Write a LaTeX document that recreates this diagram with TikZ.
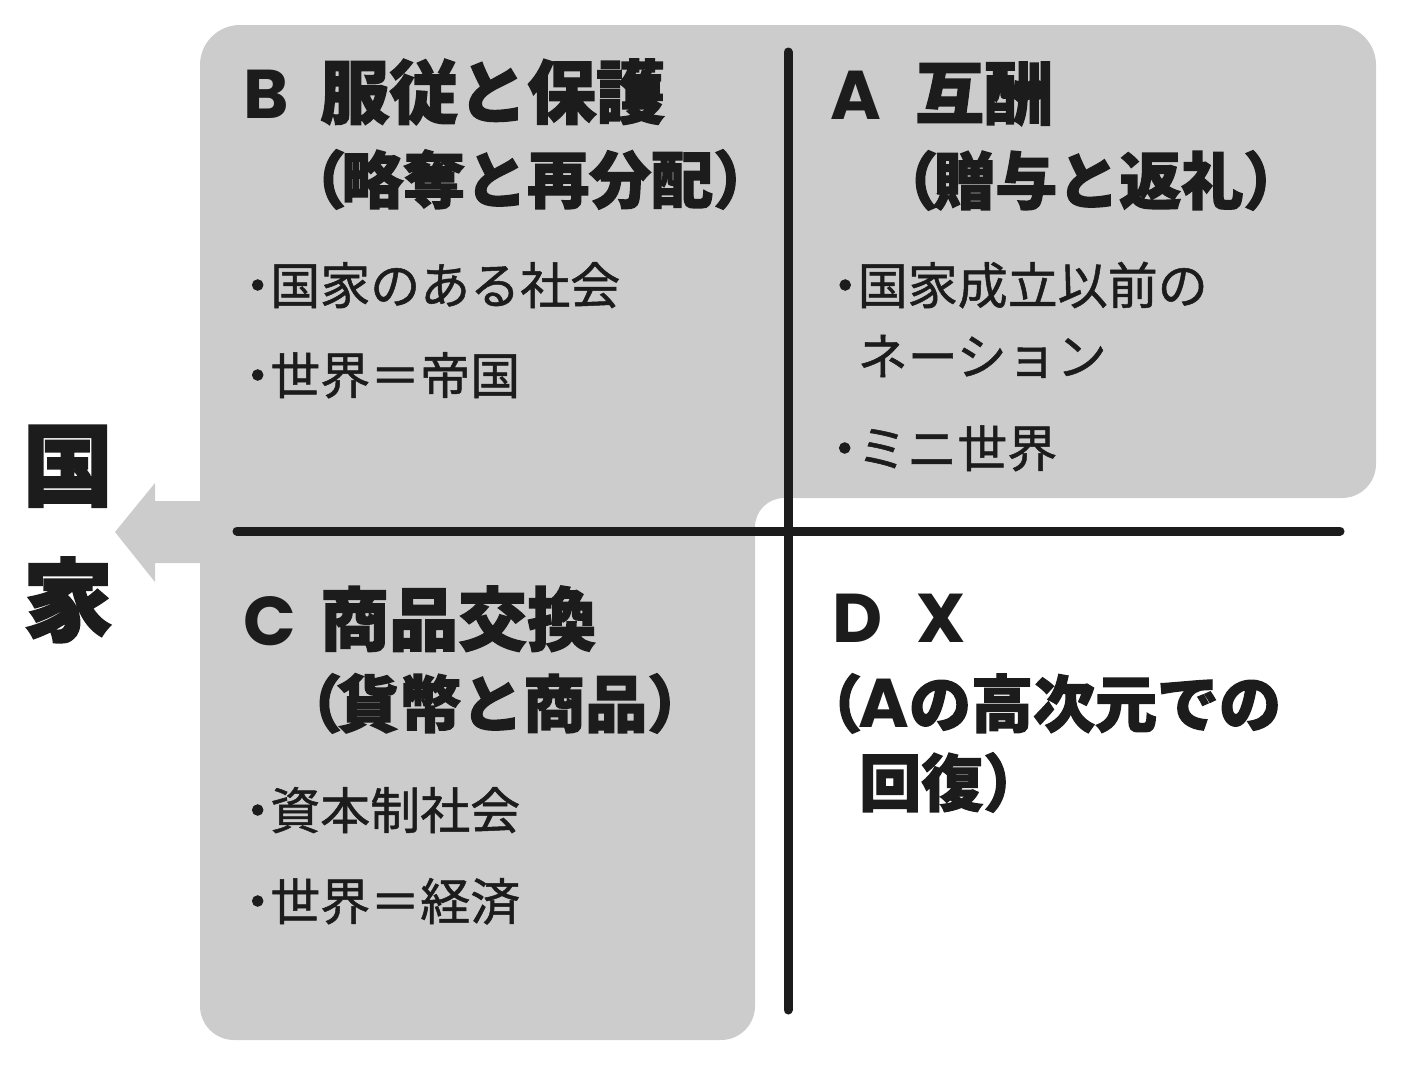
\documentclass[tikz,border=0pt]{standalone}
\usepackage{fontspec}
\newfontfamily\jp{Noto Sans CJK JP}[BoldFeatures={FakeBold=2}]
\newfontfamily\jpm{Noto Sans CJK JP}[FakeBold=1]
\newfontfamily\lat{Poppins}
\definecolor{boxgray}{HTML}{CCCCCC}
\definecolor{inkc}{HTML}{1C1C1C}
\newcommand\jlp{（\kern-5pt}
\newcommand\jrp{）}
\newcommand\jbul{{\jp\bfseries ･}}
\newcommand\latL{\lat\bfseries\fontsize{69}{69}\selectfont}
\begin{document}
\begin{tikzpicture}[x=1pt,y=-1pt,
  titletext/.style={anchor=base west,inner sep=0pt,text=inkc,font=\jp\bfseries\fontsize{69}{69}\selectfont},
  subtext/.style={anchor=base west,inner sep=0pt,text=inkc,font=\jp\bfseries\fontsize{62}{62}\selectfont},
  itemtext/.style={anchor=base west,inner sep=0pt,text=inkc,font=\jpm\fontsize{50}{50}\selectfont},
  divider/.style={draw=inkc,line width=9pt,line cap=round}]
\useasboundingbox (0,0) rectangle (1404,1068);
% gray region
\fill[boxgray] (200,600) [rounded corners=40pt] -- (200,25) -- (1376,25)
  [rounded corners=34pt] -- (1376,498) [rounded corners=29pt] -- (755,498)
  [rounded corners=34pt] -- (755,1040) -- (200,1040) [sharp corners] -- cycle;
% block arrow
\fill[boxgray] (201,501) -- (155,501) -- (155,483) -- (115,532) -- (155,582) -- (155,563) -- (201,563) -- cycle;
% dividers
\coordinate (hl) at (237,531);
\coordinate (hr) at (1340,531);
\coordinate (vt) at (788,52);
\coordinate (vb) at (788,1010);
\draw[divider] (hl) -- (hr);
\draw[divider] (vt) -- (vb);
% left label
\node[inner sep=0pt,text=inkc,align=center,font=\jp\bfseries\fontsize{90}{135}\selectfont] (kokka) at (68,534) {国\\家};
% B
\node[titletext] (Bt) at (243,118) {\makebox[77pt][l]{\latL B}服従と保護};
\node[subtext] (Bs) at (284,203) {\jlp 略奪と再分配\jrp};
\node[itemtext] (B1) at (245,304) {\jbul 国家のある社会};
\node[itemtext] (B2) at (245,394) {\jbul 世界＝帝国};
% A
\node[titletext] (At) at (830,119) {\makebox[85pt][l]{\latL A}互酬};
\node[subtext] (As) at (876,204) {\jlp 贈与と返礼\jrp};
\node[itemtext] (A1) at (832.5,304) {\jbul 国家成立以前の};
\node[itemtext] (A1b) at (857.5,375) {ネーション};
\node[itemtext] (A2) at (832,467) {\jbul ミニ世界};
% C
\node[titletext] (Ct) at (243,645) {\makebox[77pt][l]{\latL C}商品交換};
\node[subtext] (Cs) at (280,727) {\jlp 貨幣と商品\jrp};
\node[itemtext] (C1) at (245,829) {\jbul 資本制社会};
\node[itemtext] (C2) at (245,920) {\jbul 世界＝経済};
% D
\node[titletext] (Dt) at (832,642) {\makebox[84pt][l]{\latL D}{\latL X}};
\node[subtext] (Ds) at (800,727) {（\kern-4pt{\latL A}の高次元での};
\node[subtext] (Ds2) at (859,806) {回復\jrp};
\end{tikzpicture}
\end{document}
